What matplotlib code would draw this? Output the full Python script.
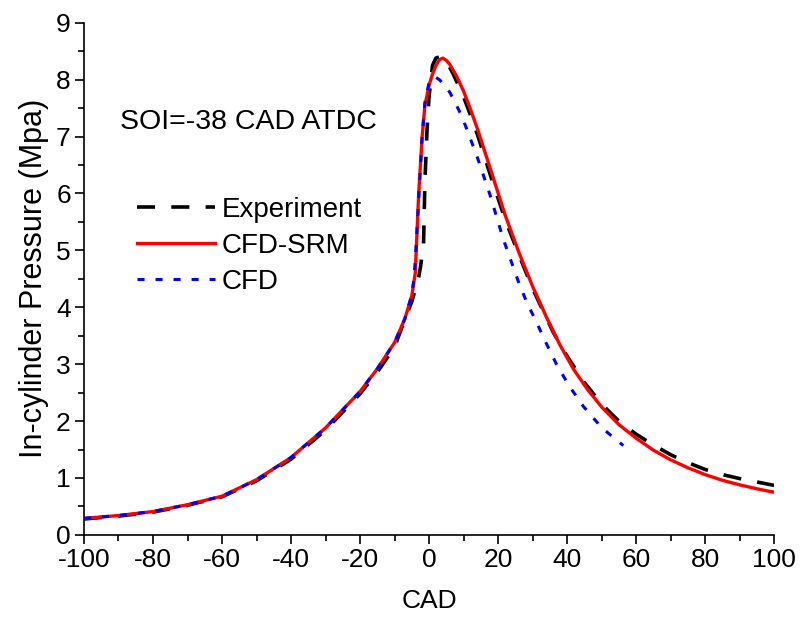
import matplotlib
matplotlib.use("Agg")
import matplotlib.pyplot as plt
from matplotlib.ticker import MultipleLocator

plt.rcParams['font.family'] = ['Liberation Sans', 'DejaVu Sans']
plt.rcParams['axes.unicode_minus'] = False

# Experiment
exp_x = [-100, -90, -80, -70, -60, -50, -40, -30, -20, -15, -10, -7, -5, -3.1, -2.5, -1.6, -1.2, -0.6, 0, 1, 2, 3.5, 5, 7, 10, 12, 14, 18, 22, 26, 30, 36, 40, 45, 50, 55, 60, 65, 70, 75, 80, 85, 90, 95, 100]
exp_y = [0.28, 0.33, 0.40, 0.52, 0.67, 0.95, 1.33, 1.84, 2.48, 2.86, 3.30, 3.79, 4.10, 4.50, 4.70, 5.10, 6.20, 7.10, 7.70, 8.25, 8.38, 8.41, 8.33, 8.10, 7.70, 7.38, 7.04, 6.28, 5.55, 4.93, 4.33, 3.56, 3.14, 2.68, 2.30, 2.00, 1.77, 1.58, 1.41, 1.27, 1.15, 1.06, 0.99, 0.93, 0.87]

# CFD-SRM
srm_x = [-100, -90, -80, -70, -60, -50, -40, -30, -20, -15, -10, -7, -5, -4, -3.5, -3, -2.5, -2, -1.2, 0, 1, 2, 3, 4, 5, 6, 8, 10, 12, 14, 18, 22, 26, 30, 34, 38, 42, 46, 50, 55, 60, 65, 70, 75, 80, 85, 90, 95, 100]
srm_y = [0.29, 0.34, 0.41, 0.53, 0.68, 0.97, 1.36, 1.88, 2.52, 2.92, 3.38, 3.80, 4.20, 4.60, 5.30, 6.00, 6.50, 7.00, 7.55, 7.90, 8.10, 8.25, 8.35, 8.38, 8.34, 8.27, 8.06, 7.80, 7.48, 7.14, 6.39, 5.63, 4.97, 4.37, 3.83, 3.33, 2.90, 2.55, 2.25, 1.94, 1.70, 1.49, 1.32, 1.18, 1.06, 0.96, 0.88, 0.81, 0.75]

# CFD
cfd_x = [-100, -90, -80, -70, -60, -50, -40, -30, -20, -15, -10, -7, -5, -4.6, -4, -3, -2, -1.2, 0, 1, 1.7, 3, 4.5, 6.1, 9.5, 13.8, 17.7, 21.5, 25.9, 28.3, 31.2, 34.1, 37, 40.6, 44.7, 50.1, 56.3]
cfd_y = [0.29, 0.34, 0.41, 0.53, 0.68, 0.97, 1.36, 1.88, 2.52, 2.92, 3.38, 3.80, 4.22, 4.40, 4.80, 5.90, 7.00, 7.60, 7.95, 8.04, 8.05, 8.00, 7.90, 7.77, 7.36, 6.67, 5.97, 5.20, 4.45, 4.09, 3.73, 3.35, 2.99, 2.62, 2.26, 1.88, 1.57]

fig = plt.figure(figsize=(8.03, 6.33), dpi=100)
ax = fig.add_axes([0.1046, 0.155, 0.8594, 0.809])

ax.plot(exp_x, exp_y, color='black', lw=2.6, linestyle=(0, (5, 4.5)), label='Experiment', zorder=2)
ax.plot(srm_x, srm_y, color='#ff0000', lw=2.4, label='CFD-SRM', zorder=3)
ax.plot(cfd_x, cfd_y, color='#0000ff', lw=2.2, linestyle=(0, (2.3, 3.6)), label='CFD', zorder=4)

ax.set_xlim(-100, 100)
ax.set_ylim(0, 9)
ax.xaxis.set_major_locator(MultipleLocator(20))
ax.xaxis.set_minor_locator(MultipleLocator(10))
ax.yaxis.set_major_locator(MultipleLocator(1))
ax.yaxis.set_minor_locator(MultipleLocator(0.5))
for s in ['top', 'right']:
    ax.spines[s].set_visible(False)
for s in ['left', 'bottom']:
    ax.spines[s].set_linewidth(1.2)
ax.tick_params(which='major', direction='out', length=6.5, width=1.2, labelsize=19, pad=3)
ax.tick_params(which='minor', direction='out', length=4, width=1.2)

ax.set_xlabel('CAD', fontsize=19, labelpad=12)
ax.set_ylabel('In-cylinder Pressure (Mpa)', fontsize=22, labelpad=5)

ax.text(-89.6, 7.25, 'SOI=-38 CAD ATDC', fontsize=20.5, va='center', ha='left')

ax.legend(loc='upper left', bbox_to_anchor=(0.0768, 0.66), frameon=False, fontsize=20,
          handlelength=2.8, handletextpad=0.25, labelspacing=0.36, borderpad=0, borderaxespad=0)

fig.savefig('out.png', dpi=100)
